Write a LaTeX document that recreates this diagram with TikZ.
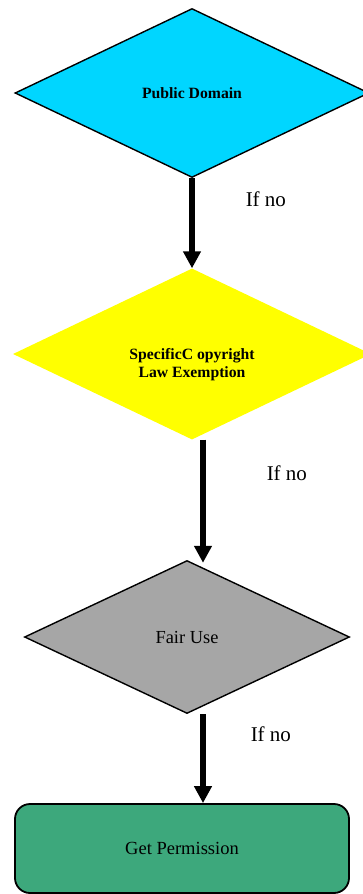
\documentclass[tikz,border=0pt]{standalone}
\usepackage{fontspec}
\setmainfont{Liberation Serif}
\usetikzlibrary{arrows.meta,shapes.geometric}
\definecolor{domaincyan}{RGB}{0,214,255}
\definecolor{lawyellow}{RGB}{255,255,0}
\definecolor{fairgray}{RGB}{166,166,166}
\definecolor{permgreen}{RGB}{61,168,124}

\begin{document}
\begin{tikzpicture}[x=1pt,y=-1pt,
    decision/.style={diamond,inner sep=0pt},
    flow/.style={line width=5.5pt,-{Triangle[length=17pt,width=17pt]}},
    ifno/.style={anchor=west,inner sep=0pt,font=\fontsize{21}{24}\selectfont}]
    \useasboundingbox (0,0) rectangle (362,894);
    % the three tests, top to bottom
    \node[decision,fill=domaincyan,draw=black,line width=1.4pt,
          minimum width=354pt,minimum height=169pt,
          font=\fontsize{15.7}{18}\selectfont\bfseries] (domain) at (192,93) {Public Domain};
    \node[decision,fill=lawyellow,minimum width=358pt,minimum height=171pt,
          label={[yshift=-11pt,align=center,font=\fontsize{15.7}{18}\selectfont\bfseries]center:SpecificC opyright\\Law Exemption}]
          (exempt) at (192,354) {};
    \node[decision,fill=fairgray,draw=black,line width=1.4pt,
          minimum width=325pt,minimum height=153pt,
          font=\fontsize{18.4}{21}\selectfont] (fair) at (187,637) {Fair Use};
    % last step
    \node[rectangle,rounded corners=15pt,fill=permgreen,draw=black,line width=1.8pt,
          minimum width=334pt,minimum height=89pt,
          font=\fontsize{18.5}{21}\selectfont] (perm) at (182,848.5) {Get Permission};
    % arrows
    \draw[flow] (domain.south) -- node[ifno,pos=0.23,xshift=51pt] {If no} (exempt.north);
    \draw[flow] ([xshift=11pt]exempt.south) -- node[ifno,pos=0.27,xshift=61pt] {If no} ([xshift=16pt,yshift=-3pt]fair.north);
    \draw[flow] ([xshift=16pt]fair.south) -- node[ifno,pos=0.23,xshift=45pt] {If no} ([xshift=21pt]perm.north);
\end{tikzpicture}
\end{document}
